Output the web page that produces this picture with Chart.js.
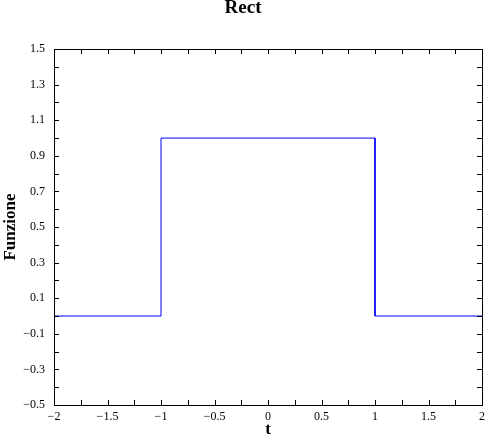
<!DOCTYPE html>
<html>
<head>
<meta charset="utf-8">
<script src="https://cdn.jsdelivr.net/npm/chart.js@4"></script>
<style>
  html, body { margin: 0; padding: 0; background: #fff; }
  #wrap { width: 486px; height: 438px; }
</style>
</head>
<body>
<div id="wrap"><canvas id="chart"></canvas></div>
<script>
// rect(t) sampled at its corners
const tValues = [-2, -1, -1, 1, 1, 2];
const rectValues = [0, 0, 1, 1, 0, 0];

const xTickLabels = [-2, -1.5, -1, -0.5, 0, 0.5, 1, 1.5, 2];
const xMinorTicks = [-1.75, -1.25, -0.75, -0.25, 0.25, 0.75, 1.25, 1.75];
const yTickLabels = [-0.5, -0.3, -0.1, 0.1, 0.3, 0.5, 0.7, 0.9, 1.1, 1.3, 1.5];
const yMinorTicks = [-0.4, -0.2, 0, 0.2, 0.4, 0.6, 0.8, 1, 1.2, 1.4];

const serif = "'Liberation Serif', 'DejaVu Serif', serif";

function fmt(v) {
    let s = String(Math.round(v * 100) / 100);
    return s.replace('-', '\u2212');
}

// frame + inward tick marks, like the original plot
const frameTicks = {
    id: 'frameTicks',
    afterDraw(chart) {
        const ctx = chart.ctx;
        const a = chart.chartArea;
        const xs = chart.scales.x, ys = chart.scales.y;
        const len = 5;
        ctx.save();
        ctx.strokeStyle = '#000';
        ctx.lineWidth = 1;
        ctx.beginPath();
        xTickLabels.concat(xMinorTicks).forEach(v => {
            const px = Math.round(xs.getPixelForValue(v)) + 0.5;
            ctx.moveTo(px, a.bottom); ctx.lineTo(px, a.bottom - len);
            ctx.moveTo(px, a.top); ctx.lineTo(px, a.top + len);
        });
        yTickLabels.concat(yMinorTicks).forEach(v => {
            const py = Math.round(ys.getPixelForValue(v)) + 0.5;
            ctx.moveTo(a.left, py); ctx.lineTo(a.left + len, py);
            ctx.moveTo(a.right, py); ctx.lineTo(a.right - len, py);
        });
        ctx.stroke();
        ctx.strokeRect(Math.round(a.left) + 0.5, Math.round(a.top) + 0.5,
            Math.round(a.right - a.left), Math.round(a.bottom - a.top));
        ctx.restore();
    }
};

const data = {
    datasets: [{
        label: 'Rect',
        data: tValues.map((t, i) => ({ x: t, y: rectValues[i] })),
        showLine: true,
        borderColor: '#0000ff',
        borderWidth: 1,
        pointRadius: 0,
        tension: 0,
        fill: false
    }]
};

const options = {
    responsive: true,
    maintainAspectRatio: false,
    animation: false,
    layout: { padding: { left: 0, right: 0, top: 0, bottom: 0 } },
    scales: {
        x: {
            type: 'linear',
            min: -2,
            max: 2,
            afterBuildTicks: s => { s.ticks = xTickLabels.map(v => ({ value: v })); },
            afterFit: s => { s.height = 33; s.paddingRight = 4; },
            grid: { display: false, drawTicks: false },
            border: { display: false },
            ticks: {
                autoSkip: false,
                maxRotation: 0,
                padding: 5,
                color: '#000',
                font: { family: serif, size: 12 },
                callback: v => fmt(v)
            },
            title: {
                display: true,
                text: 't',
                color: '#000',
                font: { family: serif, size: 17, weight: 'bold', lineHeight: 1 },
                padding: { top: 0, bottom: 0 }
            }
        },
        y: {
            min: -0.5,
            max: 1.5,
            afterBuildTicks: s => { s.ticks = yTickLabels.map(v => ({ value: v })); },
            afterFit: s => { s.width = 54; },
            grid: { display: false, drawTicks: false },
            border: { display: false },
            ticks: {
                autoSkip: false,
                padding: 9,
                color: '#000',
                font: { family: serif, size: 12 },
                callback: v => fmt(v)
            },
            title: {
                display: true,
                text: 'Funzione',
                color: '#000',
                font: { family: serif, size: 17, weight: 'bold', lineHeight: 1 },
                padding: { top: 2, bottom: 0 }
            }
        }
    },
    plugins: {
        legend: { display: false },
        tooltip: { enabled: false },
        title: {
            display: true,
            text: 'Rect',
            color: '#000',
            font: { family: serif, size: 19, weight: 'bold', lineHeight: 0.9 },
            padding: { top: 0, bottom: 32 }
        }
    }
};

const ctx = document.getElementById('chart').getContext('2d');
const rectChart = new Chart(ctx, {
    type: 'scatter',
    data: data,
    options: options,
    plugins: [frameTicks]
});
</script>
</body>
</html>
